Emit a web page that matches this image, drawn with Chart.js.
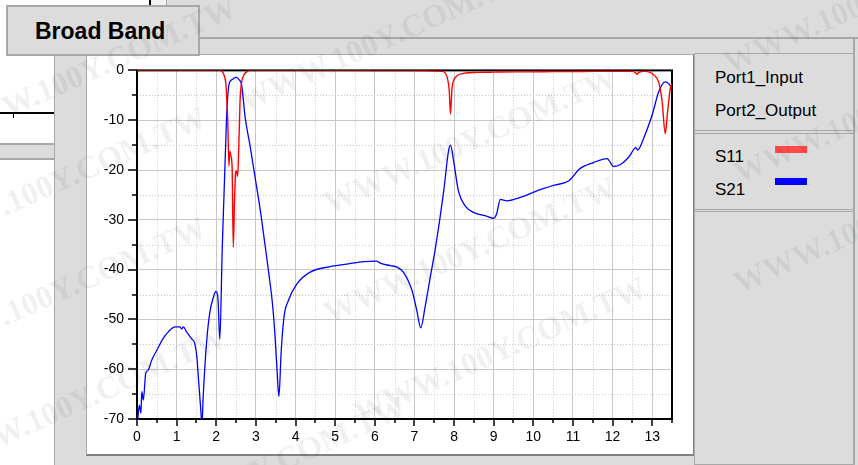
<!DOCTYPE html>
<html><head><meta charset="utf-8">
<script src="https://cdn.jsdelivr.net/npm/chart.js@4/dist/chart.umd.min.js"></script>
<style>
html,body{margin:0;padding:0;}
body{width:858px;height:465px;position:relative;overflow:hidden;background:#dcdcdc;font-family:"Liberation Sans",Arial,sans-serif;}
.a{position:absolute;box-sizing:border-box;}
.wm{position:absolute;white-space:nowrap;font-family:"Liberation Serif",serif;font-weight:bold;font-size:32px;color:rgba(0,0,0,0.06);transform:translate(-50%,-50%) rotate(-24deg);pointer-events:none;z-index:20;}
.lt{position:absolute;font-size:17px;line-height:17px;color:#000;white-space:nowrap;}
</style></head><body>
<!-- background windows -->
<div class="a" style="left:0;top:0;width:151px;height:40px;background:#fff;"></div>
<div class="a" style="left:149px;top:0;width:2px;height:6px;background:#000;"></div>
<div class="a" style="left:151px;top:0;width:15px;height:40px;background:#f2f2f2;"></div>
<div class="a" style="left:166px;top:0;width:692px;height:39px;border-left:1px solid #a8a8a8;border-bottom:2px solid #a8a8a8;background:#dcdcdc;"></div>
<div class="a" style="left:0;top:38px;width:55px;height:106px;background:#fff;border-right:1px solid #a8a8a8;"></div>
<div class="a" style="left:0;top:112px;width:54px;height:2px;background:#000;"></div>
<div class="a" style="left:13px;top:112px;width:1px;height:6px;background:#000;"></div>
<div class="a" style="left:0;top:143px;width:55px;height:17px;background:#dcdcdc;border-top:2px solid #a8a8a8;border-bottom:2px solid #a8a8a8;border-right:1px solid #a8a8a8;"></div>
<div class="a" style="left:0;top:160px;width:55px;height:305px;background:#fff;border-right:1px solid #a8a8a8;"></div>
<div class="a" style="left:853px;top:38px;width:2px;height:427px;background:#a8a8a8;"></div>
<!-- main panel -->
<div class="a" style="left:86px;top:54px;width:609px;height:402px;background:#fff;border-left:1px solid #a8a8a8;border-top:1px solid #a8a8a8;border-right:2px solid #808080;border-bottom:2px solid #808080;"></div>
<!-- legend panel -->
<div class="a" style="left:694px;top:53px;width:161px;height:412px;border:1px solid #a8a8a8;border-right:2px solid #a8a8a8;background:#dcdcdc;"></div>
<div class="a" style="left:695px;top:130px;width:159px;height:4px;border-top:1px solid #a8a8a8;border-bottom:1px solid #a8a8a8;"></div>
<div class="a" style="left:695px;top:209px;width:159px;height:3px;border-top:1px solid #a8a8a8;border-bottom:1px solid #a8a8a8;"></div>
<div class="lt" style="left:715px;top:69px;">Port1_Input</div>
<div class="lt" style="left:715px;top:102px;">Port2_Output</div>
<div class="lt" style="left:715px;top:148px;">S11</div>
<div class="lt" style="left:715px;top:181px;">S21</div>
<div class="a" style="left:775px;top:146px;width:32px;height:7px;background:#ff4b4b;"></div>
<div class="a" style="left:775px;top:178px;width:32px;height:7px;background:#0000ff;"></div>
<!-- tab -->
<div class="a" style="left:6px;top:5px;width:194px;height:51px;background:#dcdcdc;border:2px solid #a8a8a8;"></div>
<div class="a" style="left:35px;top:20px;font-size:23px;line-height:23px;font-weight:bold;white-space:nowrap;">Broad Band</div>
<!-- chart -->
<canvas id="c" width="605" height="405" style="position:absolute;left:88px;top:49px;"></canvas>
<!-- watermarks -->
<div class="wm" style="left:385px;top:38px;">WWW.100Y.COM.TW</div>
<div class="wm" style="left:470px;top:140px;">WWW.100Y.COM.TW</div>
<div class="wm" style="left:470px;top:250px;">WWW.100Y.COM.TW</div>
<div class="wm" style="left:500px;top:350px;">WWW.100Y.COM.TW</div>
<div class="wm" style="left:870px;top:0px;">WWW.100Y.COM.TW</div>
<div class="wm" style="left:880px;top:110px;">WWW.100Y.COM.TW</div>
<div class="wm" style="left:880px;top:220px;">WWW.100Y.COM.TW</div>
<div class="wm" style="left:90px;top:70px;">WWW.100Y.COM.TW</div>
<div class="wm" style="left:60px;top:180px;">WWW.100Y.COM.TW</div>
<div class="wm" style="left:60px;top:290px;">WWW.100Y.COM.TW</div>
<div class="wm" style="left:80px;top:400px;">WWW.100Y.COM.TW</div>
<div class="wm" style="left:260px;top:470px;">WWW.100Y.COM.TW</div>
<script>
// ---- data (frequency in GHz, magnitude in dB) ----
const xTicksMajor = [0,1,2,3,4,5,6,7,8,9,10,11,12,13];
const yTicksMajor = [0,-10,-20,-30,-40,-50,-60,-70];

const s11Freq = [0,2.1,2.15,2.2,2.24,2.26,2.29,2.32,2.34,2.37,2.4,2.43,2.46,2.49,2.51,2.54,2.57,2.6,2.63,2.68,2.77,2.86,5.0,7.0,7.7,7.82,7.88,7.91,7.95,8.06,8.25,8.6,9.0,9.5,10.0,10.5,11.0,11.5,12.0,12.5,12.58,12.62,12.66,12.8,12.95,13.04,13.17,13.25,13.33,13.39,13.46,13.51];
const s11Db   = [0,0,-0.2,-1.0,-2.5,-4.9,-10,-19.2,-16.2,-17.2,-19.5,-35.5,-26.2,-20.5,-20.2,-21.3,-14.9,-6.2,-2.9,-1.2,-0.3,0,0,-0.05,-0.2,-1.2,-4.2,-8.7,-3.5,-1.2,-0.6,-0.4,-0.35,-0.3,-0.3,-0.25,-0.25,-0.2,-0.2,-0.2,-0.5,-0.8,-0.4,-0.2,-0.4,-0.9,-2.5,-6.2,-12.7,-8.2,-3.5,-2.5];

const s21Freq = [0.02,0.06,0.1,0.12,0.16,0.22,0.28,0.37,0.5,0.66,0.79,0.96,1.08,1.13,1.17,1.25,1.38,1.46,1.51,1.56,1.61,1.64,1.67,1.76,1.84,1.93,1.99,2.04,2.09,2.15,2.26,2.32,2.39,2.5,2.58,2.64,2.73,2.85,3.0,3.11,3.23,3.33,3.42,3.48,3.54,3.58,3.64,3.71,3.82,4.03,4.37,4.87,5.3,5.72,6.05,6.14,6.39,6.56,6.72,6.94,7.06,7.16,7.27,7.4,7.52,7.74,7.86,7.91,7.99,8.11,8.28,8.49,8.83,9.0,9.07,9.17,9.33,9.67,10.09,10.51,10.89,10.98,11.15,11.52,11.86,12.03,12.2,12.41,12.59,12.63,12.79,13.0,13.17,13.33,13.42,13.51];
const s21Db   = [-70,-67.2,-68.8,-64.5,-66.2,-60.8,-60.2,-58.2,-56.2,-53.8,-52.5,-51.5,-51.5,-51.9,-51.5,-52.5,-53.9,-54.9,-57.5,-62.9,-68.2,-71,-65.5,-54.2,-48.5,-45.5,-44.4,-45.5,-54,-36.2,-9.5,-2.9,-1.9,-1.4,-1.9,-2.9,-9.5,-15,-22.5,-28,-35,-41,-47,-53,-61,-65.5,-56.2,-49.5,-46.2,-42.9,-40.5,-39.4,-38.9,-38.4,-38.3,-38.7,-39.2,-39.5,-40.5,-44.2,-48.2,-51.7,-47.5,-41.5,-36.2,-24.2,-16.2,-15,-18.2,-24.2,-27.2,-28.5,-29.3,-29.7,-28.9,-25.9,-26.2,-25.5,-24.2,-23.1,-22.2,-21.5,-19.9,-18.5,-17.7,-19.3,-18.9,-17.4,-15.5,-16,-13.5,-8.9,-4.2,-2.3,-2.7,-3.7];

const seriesNames = ['S11','S21'];
const toPts = (xs, ys) => xs.map((v, i) => ({x: v, y: ys[i]}));

const isMajorX = v => Math.abs(v - Math.round(v)) < 1e-9;
const isMajorY = v => Math.abs(v % 10) < 1e-9;

const framePlugin = {
  id: 'frame',
  beforeDatasetsDraw(chart) {
    const {ctx, chartArea: a, scales: {x, y}} = chart;
    ctx.save();
    ctx.strokeStyle = '#c8c8c8';
    ctx.lineWidth = 1;
    ctx.setLineDash([1, 2]);
    x.ticks.forEach(t => {
      if (!isMajorX(t.value)) {
        const px = Math.round(x.getPixelForValue(t.value)) + 0.5;
        ctx.beginPath(); ctx.moveTo(px, a.top); ctx.lineTo(px, a.bottom); ctx.stroke();
      }
    });
    y.ticks.forEach(t => {
      if (!isMajorY(t.value)) {
        const py = Math.round(y.getPixelForValue(t.value)) + 0.5;
        ctx.beginPath(); ctx.moveTo(a.left, py); ctx.lineTo(a.right, py); ctx.stroke();
      }
    });
    ctx.setLineDash([]);
    ctx.strokeStyle = '#000';
    ctx.lineWidth = 2;
    ctx.strokeRect(a.left, a.top, a.right - a.left, a.bottom - a.top);
    ctx.lineWidth = 1.5;
    x.ticks.forEach(t => {
      const px = Math.round(x.getPixelForValue(t.value));
      const len = isMajorX(t.value) ? 6 : 3;
      ctx.beginPath(); ctx.moveTo(px, a.bottom); ctx.lineTo(px, a.bottom + len + 1); ctx.stroke();
    });
    y.ticks.forEach(t => {
      const py = Math.round(y.getPixelForValue(t.value));
      const len = isMajorY(t.value) ? 8 : 4;
      ctx.beginPath(); ctx.moveTo(a.left - len - 1, py); ctx.lineTo(a.left, py); ctx.stroke();
    });
    ctx.restore();
  }
};

new Chart(document.getElementById('c'), {
  type: 'line',
  data: {
    datasets: [
      {label: seriesNames[0], data: toPts(s11Freq, s11Db), borderColor: '#ff0000', borderWidth: 1.4, pointRadius: 0, cubicInterpolationMode: 'monotone', fill: false},
      {label: seriesNames[1], data: toPts(s21Freq, s21Db), borderColor: '#0000ff', borderWidth: 1.3, pointRadius: 0, cubicInterpolationMode: 'monotone', fill: false}
    ]
  },
  options: {
    responsive: false,
    devicePixelRatio: 1,
    animation: false,
    layout: {padding: {top: 8, right: 21, left: 0, bottom: 0}},
    plugins: {legend: {display: false}, tooltip: {enabled: false}},
    scales: {
      x: {
        type: 'linear', min: 0, max: 13.5,
        afterFit: s => { s.height = 35; },
        ticks: {
          stepSize: 0.5, autoSkip: false, maxRotation: 0, padding: 10,
          color: '#000', font: {family: 'Liberation Sans', size: 14},
          callback: v => (xTicksMajor.includes(v) ? String(v) : '')
        },
        grid: {
          drawTicks: false,
          color: c => (c.tick && isMajorX(c.tick.value) ? '#c8c8c8' : 'rgba(0,0,0,0)'),
          lineWidth: 1
        },
        border: {display: false}
      },
      y: {
        type: 'linear', min: -70, max: 0,
        afterFit: s => { s.width = 49; },
        ticks: {
          stepSize: 5, autoSkip: false, padding: 13,
          color: '#000', font: {family: 'Liberation Sans', size: 14},
          callback: v => (yTicksMajor.includes(v) ? String(v) : '')
        },
        grid: {
          drawTicks: false,
          color: c => (c.tick && isMajorY(c.tick.value) ? '#c8c8c8' : 'rgba(0,0,0,0)'),
          lineWidth: 1
        },
        border: {display: false}
      }
    }
  },
  plugins: [framePlugin]
});
</script>
</body></html>
